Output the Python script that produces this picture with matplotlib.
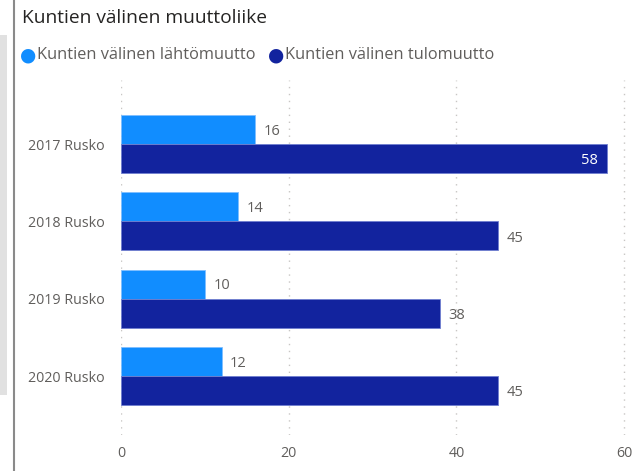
import matplotlib
matplotlib.use("Agg")
import matplotlib.pyplot as plt
import numpy as np

categories = ["2017 Rusko", "2018 Rusko", "2019 Rusko", "2020 Rusko"]
lahto = [16, 14, 10, 12]
tulo = [58, 45, 38, 45]
series_names = ["Kuntien välinen lähtömuutto", "Kuntien välinen tulomuutto"]
xticks = [0, 20, 40, 60]

c_light = "#118DFF"
c_dark = "#12239E"
txt = "#605E5C"

plt.rcParams['font.family'] = ['Open Sans', 'DejaVu Sans']

W, H = 640, 471
fig = plt.figure(figsize=(W/100, H/100), dpi=100)

# decorative left strips
fig.patches.append(plt.Rectangle((0, 1 - 395/H), 7/W, (395-35)/H, transform=fig.transFigure,
                                 facecolor="#E1E1E1", edgecolor="none"))
fig.lines.append(plt.Line2D([14/W, 14/W], [0, 1], transform=fig.transFigure, color="#8A8A8A", lw=1.5))

top_px, bot_px = 80, 435
ax = fig.add_axes([121/W, 1 - bot_px/H, 1 - 121/W, (bot_px - top_px)/H])

y = np.arange(len(categories))
h = 0.375
ax.barh(y - h/2, lahto, height=h, color=c_light, edgecolor="#7FBFFF", linewidth=0.6)
ax.barh(y + h/2, tulo, height=h, color=c_dark, edgecolor="#6F7FD0", linewidth=0.6)

ax.set_xlim(0, 61.9)
ax.set_ylim(3.763, -0.828)
ax.set_yticks(y)
ax.set_yticklabels(categories, fontsize=10.3, color=txt)
ax.set_xticks(xticks)
ax.set_xticklabels([str(t) for t in xticks], fontsize=10.3, color=txt)
ax.tick_params(length=0)
ax.tick_params(axis='y', pad=12)
ax.tick_params(axis='x', pad=8)
for s in ax.spines.values():
    s.set_visible(False)
ax.grid(axis='x', color="#C8C6C4", linestyle=(0, (1, 4)), linewidth=1)
ax.set_axisbelow(True)

for i, v in enumerate(lahto):
    ax.text(v + 1.0, y[i] - h/2 + 0.02, str(v), va='center', ha='left', fontsize=10.5, color=txt)
for i, v in enumerate(tulo):
    if v > 55:
        ax.text(v - 1.1, y[i] + h/2 + 0.02, str(v), va='center', ha='right', fontsize=10.5, color="white")
    else:
        ax.text(v + 1.0, y[i] + h/2 + 0.03, str(v), va='center', ha='left', fontsize=10.5, color=txt)

fig.text(22/W, 1 - 18/H, "Kuntien välinen muuttoliike", fontsize=13.8, color="#252423", va='center', ha='left')

# legend
lx = [28, 276]
for xpos, col, name in zip(lx, [c_light, c_dark], series_names):
    fig.text(xpos/W, 1 - 55/H, "●", fontsize=13.5, color=col, va='center', ha='center',
             family=['DejaVu Sans'])
    fig.text((xpos + 9)/W, 1 - 55/H, name, fontsize=11.8, color=txt, va='center', ha='left')

fig.savefig("out.png", dpi=100)
